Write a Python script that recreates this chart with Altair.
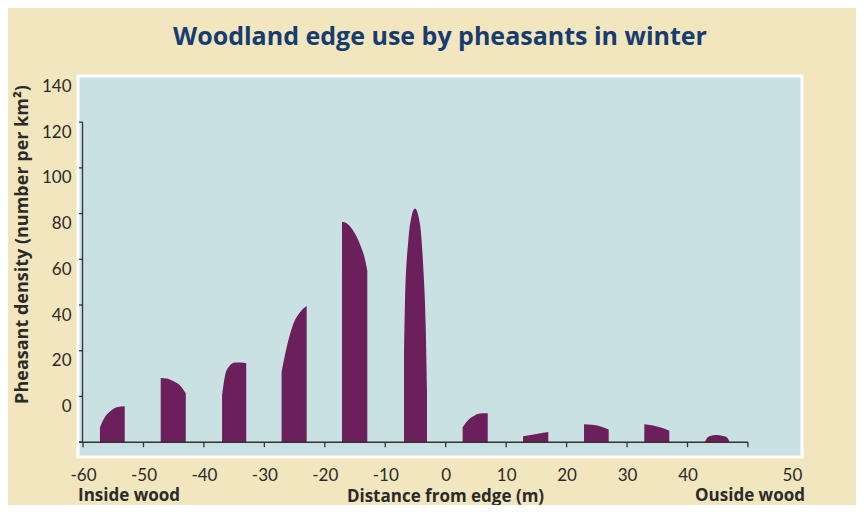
import altair as alt
import pandas as pd

# ---- data (y in the chart's own axis units; bars sit on -20) ----
bar1_x = [-57.2, -56.4, -55.5, -54.4, -53.1]
bar1_y = [-13.5, -9.1, -6.5, -4.7, -4.3]
bar2_x = [-47.15, -46.1, -45.0, -43.8, -43.0]
bar2_y = [8.1, 7.9, 6.6, 4.4, 1.4]
bar3_x = [-37.0, -36.5, -35.85, -34.85, -33.86, -33.0]
bar3_y = [0.5, 9.2, 13.1, 14.9, 14.9, 14.5]
bar4_x = [-27.15, -26.3, -25.2, -24.1, -23.0]
bar4_y = [10.7, 21.6, 31.8, 36.8, 39.7]
bar5_x = [-17.16, -16.4, -15.3, -14.2, -13.3, -12.97]
bar5_y = [76.4, 75.8, 72.5, 66.7, 59.4, 55.0]
bar6_x = [-6.90, -6.73, -6.19, -5.64, -5.08, -4.26, -3.71, -3.32, -3.10]
bar6_y = [17.2, 41.9, 68.1, 79.0, 82.2, 75.4, 56.5, 31.8, 2.7]
bar7_x = [2.8, 3.69, 4.85, 6.0, 6.95]
bar7_y = [-13.5, -10.4, -8.2, -7.4, -7.4]
bar8_x = [12.79, 14.77, 16.97]
bar8_y = [-17.4, -16.5, -15.6]
bar9_x = [22.88, 24.2, 25.53, 26.96]
bar9_y = [-12.15, -12.4, -13.0, -14.5]
bar10_x = [32.85, 34.12, 35.45, 36.99]
bar10_y = [-12.15, -12.6, -13.5, -15.0]
bar11_x = [42.89, 43.39, 44.05, 44.88, 45.71, 46.53, 46.91]
bar11_y = [-19.8, -17.8, -17.1, -16.9, -17.2, -18.0, -19.6]

baseline_value = -20
x_ticks = [-60, -50, -40, -30, -20, -10, 0, 10, 20, 30, 40, 50]
x_label_pos = [-60, -50, -40, -30, -20, -10, 0, 10, 20, 30, 40, 58.9]
x_label_text = ["-60", "-50", "-40", "-30", "-20", "-10", "0", "10", "20", "30", "40", "50"]
y_ticks = [-20, 0, 20, 40, 60, 80, 100, 120]
y_labels = [0, 20, 40, 60, 80, 100, 120, 140]
x_domain = [-60.83, 58.94]
y_domain = [-26.5, 140.2]
notes = ["Inside wood", "Ouside wood"]
notes_x = [-60.83, 59.43]

bars = [(bar1_x, bar1_y), (bar2_x, bar2_y), (bar3_x, bar3_y), (bar4_x, bar4_y),
        (bar5_x, bar5_y), (bar6_x, bar6_y), (bar7_x, bar7_y), (bar8_x, bar8_y),
        (bar9_x, bar9_y), (bar10_x, bar10_y), (bar11_x, bar11_y)]
rows = []
for i, (xs_, ys_) in enumerate(bars):
    for xv, yv in zip(xs_, ys_):
        rows.append({"bar": i, "x": xv, "y": yv, "base": baseline_value})
df = pd.DataFrame(rows)

W, H = 724, 381
PURPLE = "#6b1f5b"
AXIS = "#333333"
TXT = "#2a2a2a"
FONT = "Lato"
BOLD = "Open Sans"

label_map = "{" + ",".join(f"'{p}':'{t}'" for p, t in zip(x_label_pos, x_label_text)) + "}"

xs = alt.Scale(domain=x_domain, nice=False, zero=False)
ys = alt.Scale(domain=y_domain, nice=False, zero=False)

x_axis = alt.Axis(values=x_label_pos, labelExpr=f"{label_map}[''+datum.value]",
                  domain=False, ticks=False, grid=False, labelPadding=10,
                  labelFontSize=17, labelFont=FONT, labelColor=TXT,
                  title="Distance from edge (m)", titleFont=BOLD, titleFontSize=17,
                  titleFontWeight="bold", titleColor=TXT, titleX=367, titleY=39,
                  titleBaseline="middle", titleAlign="center")
y_axis = alt.Axis(values=y_labels, domain=False, ticks=False, grid=False,
                  labelOffset=10, labelPadding=7, labelFontSize=17, labelFont=FONT,
                  labelColor=TXT, labelBound=False, labelFlush=False,
                  title="Pheasant density (number per km²)",
                  titleFont=BOLD, titleFontSize=18, titleFontWeight="bold",
                  titleColor=TXT, titleX=-56, titleY=168, titleAngle=270,
                  titleBaseline="middle", titleAlign="center")

areas = alt.Chart(df).mark_area(interpolate="monotone", color=PURPLE).encode(
    x=alt.X("x:Q", scale=xs, axis=x_axis),
    y=alt.Y("y:Q", scale=ys, axis=y_axis),
    y2="base:Q",
    detail="bar:N",
)

base_df = pd.DataFrame({"x": [x_domain[0] + 0.2], "x2": [max(x_ticks)], "y": [baseline_value]})
base_line = alt.Chart(base_df).mark_rule(color=AXIS, strokeWidth=1.5).encode(
    x="x:Q", x2="x2:Q", y="y:Q")

vert_df = pd.DataFrame({"x": [x_ticks[0] - 0.08], "y": [y_ticks[0]], "y2": [y_ticks[-1]]})
vert_line = alt.Chart(vert_df).mark_rule(color=AXIS, strokeWidth=1.3).encode(
    x="x:Q", y="y:Q", y2="y2:Q")

xt_df = pd.DataFrame({"x": x_ticks, "y": [baseline_value] * len(x_ticks),
                      "y2": [baseline_value - 2.2] * len(x_ticks)})
x_tick_marks = alt.Chart(xt_df).mark_rule(color=AXIS, strokeWidth=1.3).encode(
    x="x:Q", y="y:Q", y2="y2:Q")

yt_df = pd.DataFrame({"y": y_ticks, "x": [x_ticks[0] - 0.65] * len(y_ticks),
                      "x2": [x_ticks[0] - 0.05] * len(y_ticks)})
y_tick_marks = alt.Chart(yt_df).mark_rule(color=AXIS, strokeWidth=1.3).encode(
    x="x:Q", x2="x2:Q", y="y:Q")

notes_df = pd.DataFrame({"t": notes, "x": notes_x})
note_left = alt.Chart(notes_df.iloc[[0]]).mark_text(
    align="left", baseline="middle", font=BOLD, fontSize=17, fontWeight="bold", color=TXT
).encode(x="x:Q", y=alt.value(H + 39), text="t:N")
note_right = alt.Chart(notes_df.iloc[[1]]).mark_text(
    align="right", baseline="middle", font=BOLD, fontSize=17, fontWeight="bold", color=TXT
).encode(x="x:Q", y=alt.value(H + 39), text="t:N")

chart = alt.layer(areas, base_line, vert_line, x_tick_marks, y_tick_marks,
                  note_left, note_right).properties(
    width=W, height=H,
    title=alt.TitleParams("Woodland edge use by pheasants in winter", font=BOLD,
                          fontSize=25, fontWeight="bold", color="#173c70",
                          anchor="middle", offset=26),
    autosize=alt.AutoSizeParams(type="none"),
    padding={"left": 70, "top": 68, "right": 54, "bottom": 48},
    background="#f2e6be",
).configure_view(fill="#cae1e4", stroke="white", strokeWidth=3)

chart.save("out.html", embed_options={"renderer": "svg", "actions": False})
